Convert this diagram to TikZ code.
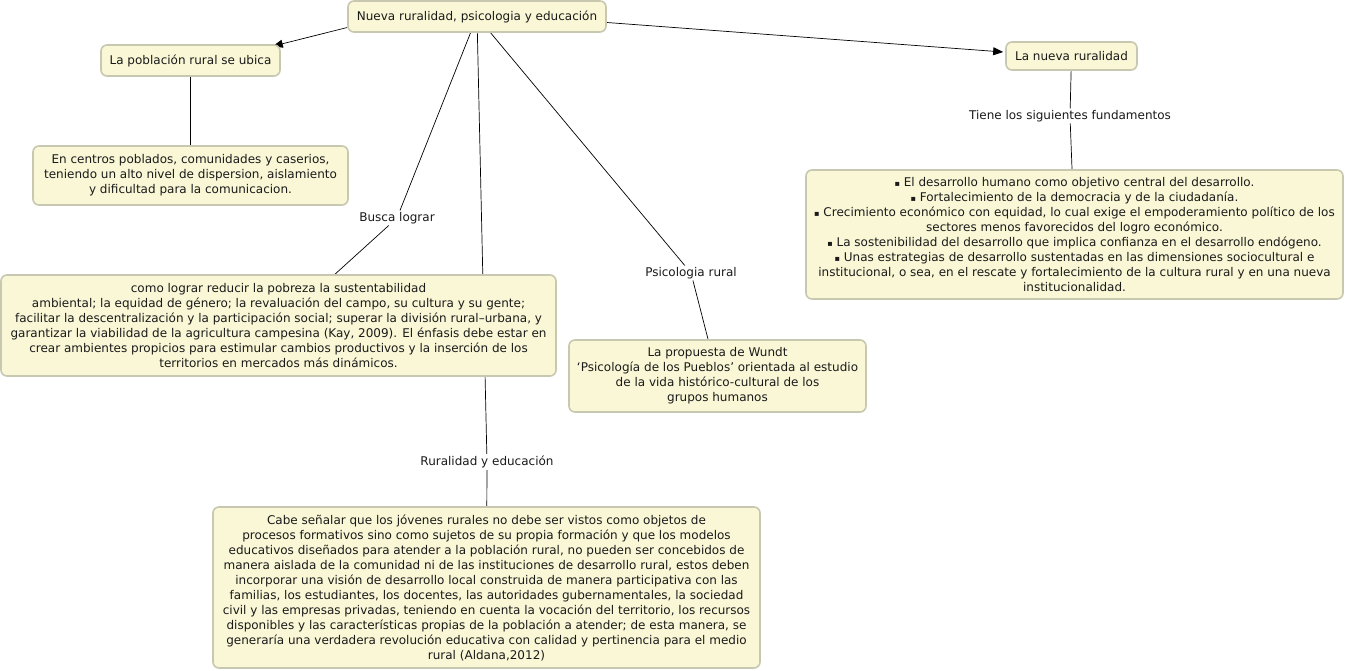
\documentclass[tikz,border=0pt]{standalone}
\usepackage{fontspec}
\setmainfont{DejaVu Sans}
\usetikzlibrary{arrows.meta,backgrounds}
\definecolor{boxfill}{HTML}{FAF7D6}
\definecolor{boxdraw}{HTML}{C8C8B0}
\definecolor{txt}{HTML}{1A1A1A}
\newcommand{\bul}{{\fontsize{8}{8}\selectfont ▪}}
\begin{document}
\begin{tikzpicture}[x=1pt,y=-1pt,
  concept/.style={draw=boxdraw,fill=boxfill,line width=1.6pt,rounded corners=6pt,
    align=center,inner sep=0pt,text=txt,font=\fontsize{12}{15}\selectfont},
  lbl/.style={fill=white,inner sep=1.5pt,text=txt,font=\fontsize{12}{15}\selectfont},
  link/.style={line width=0.7pt,draw=black},
  arr/.style={link,-{Triangle[length=10pt,width=8pt]}}]
\useasboundingbox (0,0) rectangle (1345,671);
% nodes
\node[concept,minimum width=258pt,minimum height=31pt] (top) at (477,16.5) {Nueva ruralidad, psicologia y educación};
\node[concept,minimum width=179pt,minimum height=31pt] (pob) at (190.5,60.5) {La población rural se ubica};
\node[concept,minimum width=315pt,minimum height=59pt] (cen) at (190.5,175.5) {En centros poblados, comunidades y caserios,\\teniendo un alto nivel de dispersion, aislamiento\\y dificultad para la comunicacion.};
\node[concept,minimum width=131pt,minimum height=28pt] (nueva) at (1071.5,56) {La nueva ruralidad};
\node[concept,minimum width=537pt,minimum height=129pt] (fund) at (1074.5,234.5) {\bul{} El desarrollo humano como objetivo central del desarrollo.\\\bul{} Fortalecimiento de la democracia y de la ciudadanía.\\\bul{} Crecimiento económico con equidad, lo cual exige el empoderamiento político de los\\sectores menos favorecidos del logro económico.\\\bul{} La sostenibilidad del desarrollo que implica confianza en el desarrollo endógeno.\\\bul{} Unas estrategias de desarrollo sustentadas en las dimensiones sociocultural e\\institucional, o sea, en el rescate y fortalecimiento de la cultura rural y en una nueva\\institucionalidad.};
\node[concept,minimum width=555pt,minimum height=101pt] (como) at (278.5,325.5) {como lograr reducir la pobreza la sustentabilidad\\ambiental; la equidad de género; la revaluación del campo, su cultura y su gente;\\facilitar la descentralización y la participación social; superar la división rural–urbana, y\\garantizar la viabilidad de la agricultura campesina (Kay, 2009). El énfasis debe estar en\\crear ambientes propicios para estimular cambios productivos y la inserción de los\\territorios en mercados más dinámicos.};
\node[concept,minimum width=297pt,minimum height=72pt] (wundt) at (717.5,376) {La propuesta de Wundt\\‘Psicología de los Pueblos’ orientada al estudio\\de la vida histórico-cultural de los\\grupos humanos};
\node[concept,minimum width=547pt,minimum height=161pt] (edu) at (486.5,587.5) {Cabe señalar que los jóvenes rurales no debe ser vistos como objetos de\\procesos formativos sino como sujetos de su propia formación y que los modelos\\educativos diseñados para atender a la población rural, no pueden ser concebidos de\\manera aislada de la comunidad ni de las instituciones de desarrollo rural, estos deben\\incorporar una visión de desarrollo local construida de manera participativa con las\\familias, los estudiantes, los docentes, las autoridades gubernamentales, la sociedad\\civil y las empresas privadas, teniendo en cuenta la vocación del territorio, los recursos\\disponibles y las características propias de la población a atender; de esta manera, se\\generaría una verdadera revolución educativa con calidad y pertinencia para el medio\\rural (Aldana,2012)};
% labels
\node[lbl] (busca) at (397,218) {Busca lograr};
\node[lbl] (psic) at (691,273) {Psicologia rural};
\node[lbl] (rye) at (487,462) {Ruralidad y educación};
\node[lbl] (tiene) at (1070,116) {Tiene los siguientes fundamentos};
% connectors
\begin{pgfonlayer}{background}
\draw[arr] ([yshift=-11pt]top.west) -- ([xshift=-8pt,yshift=-2pt]pob.north east);
\draw[arr] ([yshift=-6pt]top.east) -- ([xshift=-2pt,yshift=4pt]nueva.west);
\draw[link] (pob) -- (cen);
\draw[link] (top) -- (busca);
\draw[link] (busca) -- (como);
\draw[link] (top) -- (psic);
\draw[link] (psic) -- (wundt);
\draw[link] (top) -- (rye);
\draw[link] (rye) -- (edu);
\draw[link] (nueva) -- (tiene);
\draw[link] (tiene) -- (fund);
\end{pgfonlayer}
\end{tikzpicture}
\end{document}
